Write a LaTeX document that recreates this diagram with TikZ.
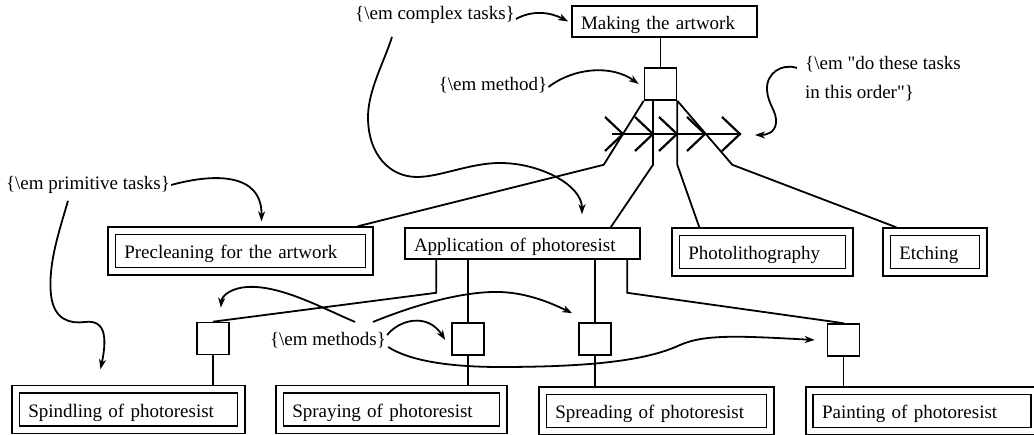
\documentclass[tikz,border=0pt]{standalone}
\usepackage{fontspec}
\setmainfont{Liberation Serif}
\newfontfamily\plainq{Liberation Serif}
\usetikzlibrary{calc,arrows.meta}
\newcommand{\sq}{{\plainq\symbol{34}}}
\begin{document}
\begin{tikzpicture}[x=1pt,y=1pt,
  every node/.style={font=\fontsize{19}{29}\selectfont},
  sbox/.style={draw, line width=1.6pt, minimum height=31pt, inner ysep=0pt, inner xsep=9pt, text height=16pt, text depth=0pt, align=left},
  dbox/.style={draw, double, double distance=5.7pt, line width=1.6pt, minimum height=40.5pt, inner ysep=0pt, inner xsep=12.5pt, text height=16pt, text depth=0pt, align=left, outer sep=4.45pt},
  meth/.style={draw, line width=1.6pt, minimum size=32pt, inner sep=0pt},
  note/.style={inner sep=1pt},
  conn/.style={line width=1.8pt},
  chev/.style={line width=2.2pt},
  ann/.style={line width=1.8pt, -{Stealth[length=10pt,width=7pt,inset=3pt]}},
]
\useasboundingbox (0,0) rectangle (1034,435);

% task boxes
\node[sbox, text width=167pt] (mk) at (664.5,413.5) {Making the artwork};
\node[meth] (m0) at (660.5,351) {};
\node[dbox, text width=232.5pt] (pre) at (240.5,184) {Precleaning for the artwork};
\node[sbox, text width=217pt] (app) at (522.5,191.5) {Application of photoresist};
\node[dbox, text width=148.5pt] (pho) at (762.5,183) {Photolithography};
\node[dbox, text width=71.5pt] (eth) at (935,183) {Etching};
\node[meth] (s1) at (213,96.5) {};
\node[meth] (s2) at (468,96) {};
\node[meth] (s3) at (595,96) {};
\node[meth] (s4) at (843.5,95) {};
\node[dbox, text width=200.5pt] (spi) at (128.5,25.5) {Spindling of photoresist};
\node[dbox, text width=198.5pt] (spr) at (391.5,25.5) {Spraying of photoresist};
\node[dbox, text width=202.5pt] (spd) at (656.5,24) {Spreading of photoresist};
\node[dbox, text width=200pt] (pai) at (922,24) {Painting of photoresist};

% annotation texts
\node[note] (ct) at (435,420) {\{\textbackslash em complex tasks\}};
\node[note] (mt) at (493,350) {\{\textbackslash em method\}};
\node[note] (pt) at (88,250) {\{\textbackslash em primitive tasks\}};
\node[note] (ms) at (328,95) {\{\textbackslash em methods\}};
\node[note, anchor=north west, inner sep=0pt, align=left] (ord) at (805,379) {\{\textbackslash em \sq do these tasks\\in this order\sq\}};

% making -> method
\draw[conn] (m0.north) -- (m0.north |- mk.south);

% order chevrons
\coordinate (c0) at (612,301);
\coordinate (c1) at (623,301);
\coordinate (c2) at (653,301);
\coordinate (c3) at (677,301);
\coordinate (c4) at (705,301);
\coordinate (c5) at (740,301);
\draw[chev] (c0) -- (c5);
\foreach \c in {c1,c2,c3,c4,c5}
  \draw[chev] ($(\c)+(-18,17)$) -- (\c) -- ($(\c)+(-18,-17)$);

% method -> subtasks
\draw[conn] (m0.south west) -- ++(-40,-64) -- ($(pre.north east)+(-16,0)$);
\draw[conn] ($(m0.south)+(-7.5,0)$) -- ++(0,-64) -- ($(app.north east)+(-30,0)$);
\draw[conn] (m0.south east) -- ++(0,-64) -- ($(pho.north west)+(28,0)$);
\draw[conn] (m0.south east) -- ++(55,-64) -- ($(eth.north west)+(14,0)$);

% application -> methods
\draw[conn] ($(app.south west)+(32,0)$) -- ++(0,-33) -- (s1.north);
\draw[conn] (app.south -| s2.north) -- (s2.north);
\draw[conn] (app.south -| s3.north) -- (s3.north);
\draw[conn] ($(app.south west)+(223,0)$) -- ++(0,-33) -- (s4.north);

% methods -> primitive tasks
\draw[conn] (s1.south) -- (s1.south |- spi.north);
\draw[conn] (s2.south) -- (s2.south |- spr.north);
\draw[conn] (s3.south) -- (s3.south |- spd.north);
\draw[conn] (s4.south) -- (s4.south |- pai.north);

% annotation arrows
\draw[ann] ($(ct.east)+(0,-4)$) .. controls (532,425) and (550,423) .. ($(mk.west)+(-3,0)$);
\draw[ann] ($(ct.south)+(-43,-12)$) .. controls (385,375) and (368,345) .. (368,318)
  .. controls (368,280) and (390,258) .. (417,258)
  .. controls (440,258) and (470,272) .. (500,272)
  .. controls (540,272) and (582,250) .. ($(app.north)+(59.5,13)$);
\draw[ann] ($(mt.east)+(0,-2)$) .. controls (575,368) and (612,370) .. ($(m0.west)+(-5,0)$);
\draw[ann] ($(ord.north west)+(-8,-12)$) .. controls (782,372) and (766,362) .. (767,345)
  .. controls (768,330) and (777,324) .. (776,312)
  .. controls (775,302) and (766,300) .. ($(c5)+(15,-1)$);
\draw[ann] (pt.east) .. controls (215,262) and (262,262) .. ($(pre.north)+(21,5)$);
\draw[ann] ($(pt.south)+(-20,-6)$) .. controls (58,200) and (48,170) .. (51,140)
  .. controls (54,115) and (70,111) .. (85,113)
  .. controls (108,116) and (106,92) .. ($(spi.north)+(-28,15.5)$);
\draw[ann] ($(ms.north)+(27,9)$) .. controls (320,128) and (280,150) .. (247,148)
  .. controls (232,147) and (222,140) .. ($(s1.north east)+(-9,14)$);
\draw[ann] ($(ms.north)+(45,9)$) .. controls (410,128) and (460,144) .. (500,143)
  .. controls (530,142) and (555,130) .. ($(s3.north west)+(-6,9)$);
\draw[ann] ($(ms.east)+(0,5)$) .. controls (400,116) and (428,122) .. ($(s2.west)+(-6,-1)$);
\draw[ann] ($(ms.east)+(1,-7)$) .. controls (410,74) and (450,68) .. (500,68)
  .. controls (600,68) and (650,76) .. (680,90)
  .. controls (705,101) and (740,99) .. ($(s4.west)+(-12,0)$);
\end{tikzpicture}
\end{document}
